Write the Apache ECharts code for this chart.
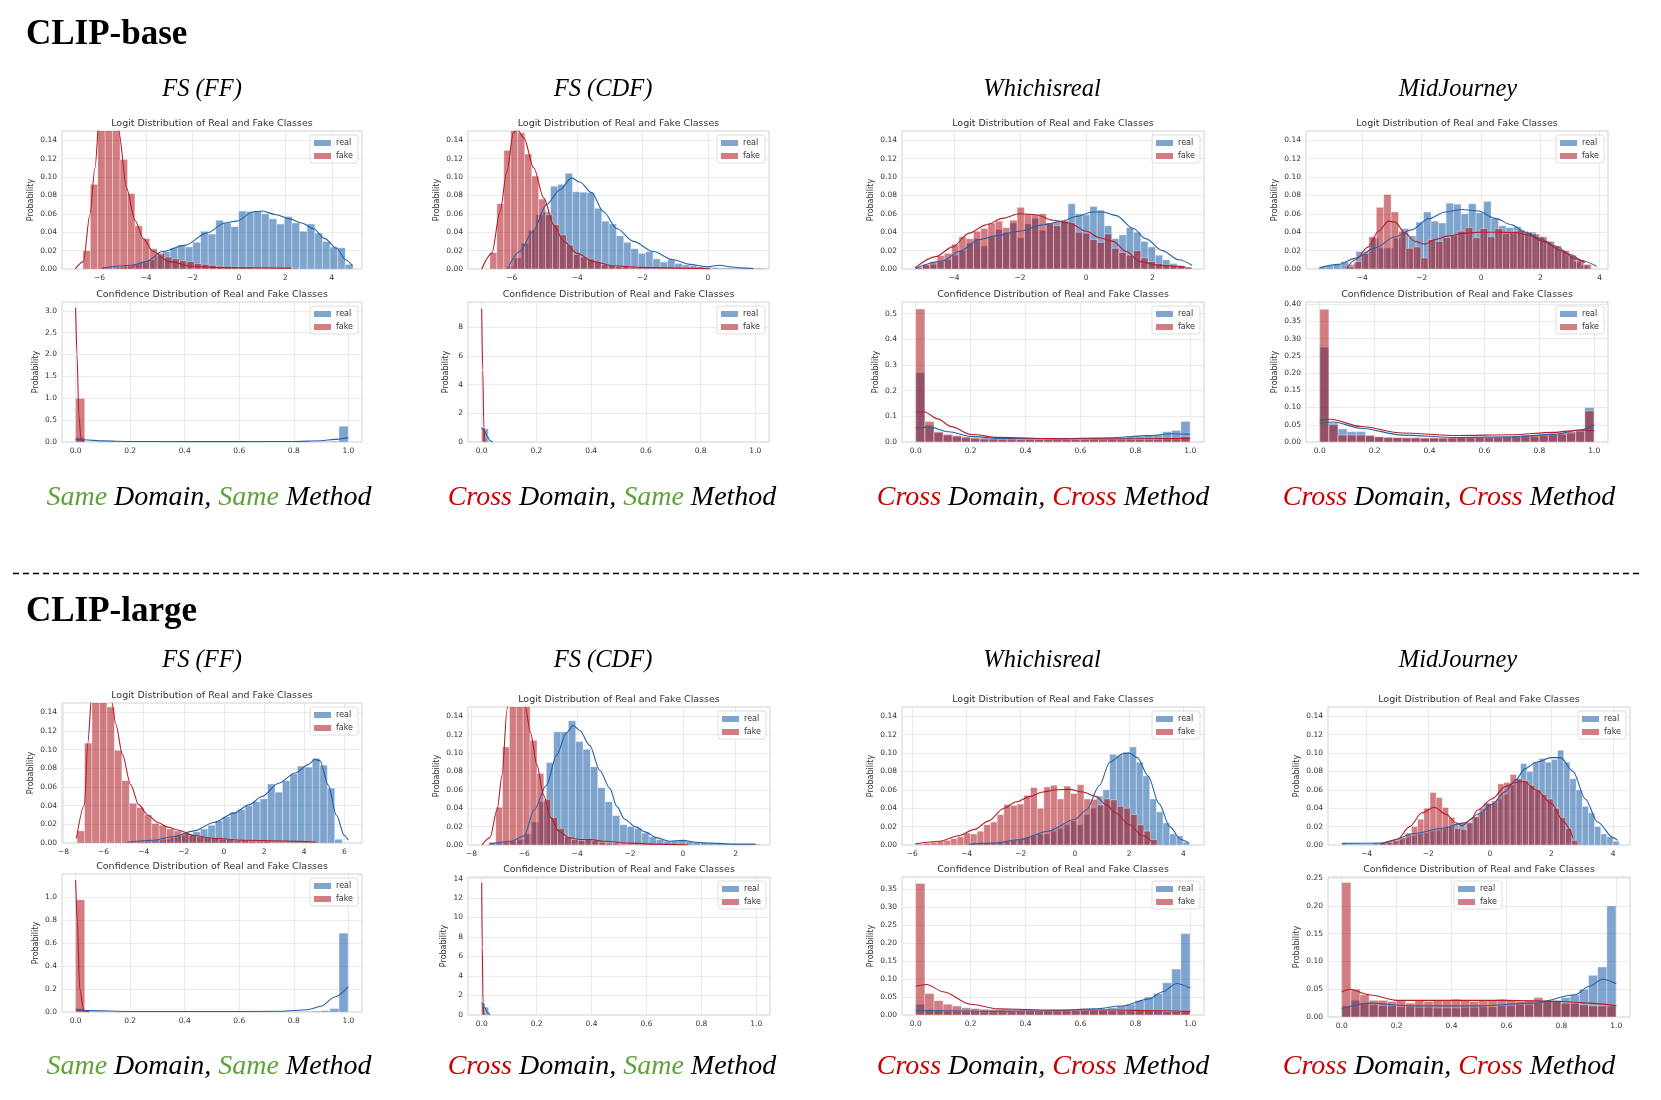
<!DOCTYPE html>
<html><head><meta charset="utf-8">
<script src="https://cdn.jsdelivr.net/npm/echarts@6.0.0/dist/echarts.min.js"></script>
<style>html,body{margin:0;padding:0;background:#fff}#c{width:1661px;height:1100px}</style>
</head><body><div id="c"></div>
<script>
// ---------- tick labels ----------
const xtB_FF = [-6,-4,-2,0,2,4];
const xtB_CDF = [-6,-4,-2,0];
const xtB_WIR = [-4,-2,0,2];
const xtB_MJ = [-4,-2,0,2,4];
const xtL_FF = [-8,-6,-4,-2,0,2,4,6];
const xtL_CDF = [-8,-6,-4,-2,0,2];
const xtL_WIR = [-6,-4,-2,0,2,4];
const xtL_MJ = [-4,-2,0,2,4];
const xtConf = [0,0.2,0.4,0.6,0.8,1.0];
const ytLogit = [0,0.02,0.04,0.06,0.08,0.10,0.12,0.14];
const ytB_FFc = [0,0.5,1,1.5,2,2.5,3];
const ytB_CDFc = [0,2,4,6,8];
const ytB_WIRc = [0,0.1,0.2,0.3,0.4,0.5];
const ytB_MJc = [0,0.05,0.10,0.15,0.20,0.25,0.30,0.35,0.40];
const ytL_FFc = [0,0.2,0.4,0.6,0.8,1.0];
const ytL_CDFc = [0,2,4,6,8,10,12,14];
const ytL_WIRc = [0,0.05,0.10,0.15,0.20,0.25,0.30,0.35];
const ytL_MJc = [0,0.05,0.10,0.15,0.20,0.25];

// ---------- CLIP-base : FS (FF) ----------
const bFFLogitRealBin = [-5.916, 0.328];
const bFFLogitRealH = [0.001,0.001,0.002,0.003,0.005,0.007,0.01,0.0145,0.019,0.023,0.026,0.024,0.029,0.041,0.038,0.053,0.05,0.046,0.063,0.0625,0.063,0.06,0.0545,0.049,0.057,0.05,0.041,0.049,0.039,0.03,0.024,0.023,0.005];
const bFFLogitFakeBin = [-6.72, 0.32];
const bFFLogitFakeH = [0.02,0.092,0.19,0.205,0.175,0.119,0.082,0.047,0.033,0.022,0.017,0.013,0.011,0.009,0.008,0.006,0.005,0.004,0.003,0.003,0.002,0.002,0.002,0.001,0.001,0.001,0.001,0.001,0.001];
const bFFLogitRealK = [[-5.9,0.001],[-4.6,0.004],[-4.0,0.008],[-3.3,0.019],[-2.3,0.026],[-1.4,0.039],[-0.6,0.05],[-0.1,0.052],[0.6,0.062],[1.0,0.063],[1.6,0.059],[2.2,0.0545],[2.7,0.05],[3.2,0.044],[3.7,0.033],[4.2,0.0225],[4.6,0.01],[4.9,0.003]];
const bFFLogitFakeK = [[-7.05,0.0],[-6.7,0.008],[-6.42,0.059],[-6.2,0.11],[-6.0,0.17],[-5.7,0.2],[-5.4,0.185],[-5.18,0.15],[-4.84,0.088],[-4.48,0.053],[-4.12,0.033],[-3.7,0.019],[-3.0,0.008],[-2.0,0.003],[-0.8,0.0015],[2.25,0.001]];
const bFFConfRealBin = [0, 0.0333];
const bFFConfRealH = [0.1,0.01,0.006,0.005,0.004,0.004,0.004,0.004,0.004,0.004,0.004,0.004,0.004,0.004,0.004,0.004,0.004,0.004,0.005,0.005,0.005,0.005,0.006,0.006,0.007,0.008,0.01,0.012,0.02,0.36];
const bFFConfFakeBin = [0, 0.0333];
const bFFConfFakeH = [0.995];
const bFFConfRealK = [[0,0.06],[0.03,0.05],[0.1,0.025],[0.2,0.012],[0.4,0.008],[0.6,0.008],[0.8,0.012],[0.9,0.03],[0.95,0.06],[1.0,0.1]];
const bFFConfFakeK = [[0,3.07],[0.005,2.0],[0.012,0.6],[0.02,0.05],[0.03,0]];

// ---------- CLIP-base : FS (CDF) ----------
const bCDFLogitRealBin = [-6.16, 0.224];
const bCDFLogitRealH = [0.003,0.012,0.028,0.042,0.059,0.062,0.09,0.092,0.104,0.084,0.0835,0.083,0.066,0.052,0.049,0.036,0.029,0.022,0.017,0.019,0.011,0.0075,0.01,0.006,0.0045,0.0036,0.0025,0.002,0.0015,0.001,0.0012,0.001,0.0008,0.0005,0.001,0.0005];
const bCDFLogitFakeBin = [-6.67, 0.213];
const bCDFLogitFakeH = [0.018,0.071,0.129,0.155,0.148,0.125,0.101,0.076,0.059,0.048,0.037,0.026,0.016,0.013,0.011,0.008,0.005,0.004,0.003,0.003,0.002,0.002,0.002,0.001,0.001,0.001,0.001,0.001,0.001,0.001,0.0005,0.0005];
const bCDFLogitRealK = [[-6.08,0.0036],[-5.76,0.019],[-5.35,0.041],[-4.94,0.07],[-4.53,0.086],[-4.17,0.099],[-3.92,0.0945],[-3.56,0.083],[-3.2,0.0625],[-2.79,0.044],[-2.28,0.03],[-1.67,0.019],[-1.06,0.01],[-0.55,0.005],[-0.04,0.0025],[0.37,0.004],[0.67,0.0025],[1.0,0.0012],[1.4,0.0005]];
const bCDFLogitFakeK = [[-6.92,0],[-6.61,0.017],[-6.36,0.0625],[-6.15,0.106],[-5.95,0.148],[-5.84,0.152],[-5.63,0.1425],[-5.33,0.11],[-5.02,0.077],[-4.72,0.048],[-4.41,0.03],[-4.0,0.017],[-3.49,0.008],[-2.88,0.0036],[-2.06,0.0018],[-0.22,0.0007],[0.08,0]];
const bCDFConfRealBin = [0.004, 0.02];
const bCDFConfRealH = [0.92, 0.06];
const bCDFConfFakeBin = [0, 0.012];
const bCDFConfFakeH = [0.99];
const bCDFConfRealK = [[0,1.0],[0.01,0.8],[0.02,0.4],[0.03,0.1],[0.04,0]];
const bCDFConfFakeK = [[0,9.3],[0.004,5],[0.008,1],[0.012,0]];

// ---------- CLIP-base : Whichisreal ----------
const bWIRLogitRealBin = [-5.17, 0.22];
const bWIRLogitRealH = [0.0015,0.004,0.005,0.008,0.01,0.015,0.02,0.028,0.033,0.025,0.035,0.043,0.04,0.05,0.034,0.049,0.055,0.042,0.05,0.051,0.052,0.071,0.06,0.059,0.068,0.064,0.047,0.033,0.037,0.045,0.04,0.03,0.024,0.015,0.01,0.006,0.004,0.002];
const bWIRLogitFakeBin = [-5.17, 0.22];
const bWIRLogitFakeH = [0.002,0.005,0.008,0.0145,0.017,0.027,0.035,0.033,0.041,0.044,0.05,0.052,0.045,0.053,0.067,0.06,0.059,0.06,0.05,0.047,0.052,0.05,0.04,0.039,0.032,0.029,0.038,0.0225,0.018,0.015,0.02,0.012,0.008,0.006,0.005,0.004,0.003,0.002];
const bWIRLogitRealK = [[-5.17,0.0007],[-4.35,0.0087],[-3.84,0.019],[-3.24,0.032],[-2.74,0.036],[-2.02,0.041],[-1.32,0.048],[-0.71,0.052],[-0.31,0.057],[0.2,0.062],[0.5,0.062],[0.91,0.058],[1.42,0.044],[1.8,0.033],[2.3,0.02],[2.8,0.01],[3.2,0.004]];
const bWIRLogitFakeK = [[-5.17,0.0015],[-4.55,0.0135],[-4.04,0.024],[-3.54,0.039],[-3.03,0.048],[-2.53,0.055],[-2.02,0.06],[-1.52,0.059],[-1.01,0.053],[-0.51,0.05],[0.0,0.041],[0.4,0.034],[0.81,0.03],[1.21,0.019],[1.62,0.008],[2.2,0.004],[3.0,0.002]];
const bWIRConfRealBin = [0, 0.0333];
const bWIRConfRealH = [0.27,0.065,0.035,0.025,0.02,0.015,0.012,0.01,0.01,0.009,0.009,0.008,0.009,0.01,0.009,0.01,0.01,0.011,0.012,0.013,0.012,0.014,0.016,0.02,0.022,0.025,0.028,0.04,0.045,0.08];
const bWIRConfFakeBin = [0, 0.0333];
const bWIRConfFakeH = [0.518,0.08,0.04,0.03,0.025,0.02,0.017,0.015,0.013,0.012,0.012,0.011,0.011,0.01,0.01,0.01,0.01,0.01,0.01,0.01,0.009,0.01,0.01,0.01,0.01,0.01,0.01,0.012,0.012,0.02];
const bWIRConfRealK = [[0,0.055],[0.05,0.058],[0.12,0.04],[0.2,0.022],[0.3,0.014],[0.5,0.012],[0.7,0.016],[0.85,0.025],[0.93,0.032],[1.0,0.03]];
const bWIRConfFakeK = [[0,0.115],[0.03,0.118],[0.08,0.09],[0.13,0.06],[0.2,0.03],[0.3,0.018],[0.5,0.013],[0.7,0.012],[0.9,0.013],[1.0,0.015]];

// ---------- CLIP-base : MidJourney ----------
const bMJLogitRealBin = [-5.48, 0.253];
const bMJLogitRealH = [0.0025,0.0036,0.005,0.008,0.005,0.019,0.019,0.0335,0.023,0.023,0.0335,0.044,0.036,0.051,0.062,0.052,0.05,0.0716,0.0705,0.06,0.071,0.061,0.0735,0.055,0.047,0.045,0.046,0.041,0.04,0.035,0.03,0.025,0.02,0.015,0.008,0.004];
const bMJLogitFakeBin = [-4.53, 0.25];
const bMJLogitFakeH = [0.0025,0.008,0.017,0.035,0.067,0.081,0.062,0.041,0.0225,0.024,0.012,0.032,0.03,0.034,0.037,0.041,0.045,0.034,0.044,0.035,0.044,0.039,0.041,0.0425,0.04,0.038,0.035,0.03,0.025,0.02,0.015,0.01,0.005];
const bMJLogitRealK = [[-5.42,0.0015],[-4.8,0.005],[-4.25,0.0116],[-3.57,0.023],[-2.9,0.035],[-2.34,0.0425],[-1.78,0.0545],[-1.21,0.062],[-0.65,0.0647],[-0.09,0.063],[0.48,0.055],[1.04,0.048],[1.49,0.04],[2.0,0.033],[2.5,0.025],[3.0,0.016],[3.4,0.009],[3.9,0.003]];
const bMJLogitFakeK = [[-4.53,0.0007],[-4.25,0.0098],[-3.8,0.024],[-3.46,0.041],[-3.12,0.052],[-2.9,0.051],[-2.56,0.039],[-2.23,0.03],[-1.89,0.027],[-1.55,0.032],[-1.1,0.036],[-0.54,0.039],[0.02,0.04],[0.58,0.04],[1.15,0.0396],[1.6,0.037],[2.1,0.03],[2.7,0.02],[3.2,0.011],[3.5,0.007]];
const bMJConfRealBin = [0, 0.0333];
const bMJConfRealH = [0.275,0.055,0.038,0.03,0.03,0.02,0.015,0.012,0.012,0.01,0.01,0.01,0.011,0.01,0.01,0.012,0.011,0.012,0.012,0.012,0.013,0.014,0.015,0.015,0.018,0.02,0.022,0.025,0.03,0.1];
const bMJConfFakeBin = [0, 0.0333];
const bMJConfFakeH = [0.385,0.05,0.02,0.02,0.02,0.018,0.015,0.014,0.013,0.013,0.013,0.012,0.012,0.012,0.013,0.013,0.013,0.014,0.014,0.015,0.016,0.018,0.02,0.02,0.022,0.025,0.028,0.03,0.035,0.09];
const bMJConfRealK = [[0,0.055],[0.05,0.058],[0.15,0.04],[0.3,0.02],[0.5,0.013],[0.7,0.015],[0.85,0.022],[0.95,0.035],[1.0,0.05]];
const bMJConfFakeK = [[0,0.063],[0.04,0.066],[0.15,0.045],[0.3,0.026],[0.5,0.019],[0.7,0.021],[0.85,0.028],[0.95,0.035],[1.0,0.033]];

// ---------- CLIP-large : FS (FF) ----------
const lFFLogitRealBin = [-4.894, 0.372];
const lFFLogitRealH = [0.001,0.001,0.002,0.002,0.003,0.004,0.006,0.008,0.01,0.012,0.015,0.019,0.024,0.028,0.033,0.036,0.04,0.0444,0.0473,0.0632,0.0545,0.0668,0.074,0.0824,0.0813,0.0907,0.0834,0.0588,0.004];
const lFFLogitFakeBin = [-7.32, 0.372];
const lFFLogitFakeH = [0.013,0.107,0.17,0.17,0.1456,0.0993,0.0668,0.0426,0.038,0.03,0.021,0.019,0.015,0.013,0.011,0.008,0.007,0.006,0.005,0.004,0.004,0.003,0.003,0.002,0.002,0.002,0.001,0.001,0.001,0.001,0.001,0.001];
const lFFLogitRealK = [[-4.8,0.001],[-3.5,0.003],[-2.5,0.007],[-1.5,0.013],[-0.5,0.022],[0.5,0.032],[1.24,0.0408],[1.9,0.0498],[2.72,0.064],[3.55,0.075],[4.21,0.084],[4.54,0.0896],[4.79,0.088],[5.2,0.062],[5.6,0.03],[6.0,0.008],[6.2,0.003]];
const lFFLogitFakeK = [[-7.35,0.005],[-6.95,0.041],[-6.79,0.106],[-6.58,0.16],[-6.2,0.2],[-5.85,0.175],[-5.59,0.151],[-5.39,0.1275],[-5.06,0.095],[-4.65,0.0625],[-4.24,0.0408],[-3.8,0.03],[-3.3,0.022],[-2.8,0.017],[-2.3,0.014],[-1.5,0.008],[-0.5,0.005],[1,0.003],[3,0.002],[4.6,0.001]];
const lFFConfRealBin = [0, 0.0333];
const lFFConfRealH = [0.03,0.005,0.003,0.002,0.002,0.002,0.002,0.002,0.002,0.002,0.002,0.002,0.002,0.002,0.002,0.002,0.002,0.002,0.002,0.002,0.003,0.003,0.003,0.004,0.005,0.006,0.008,0.012,0.03,0.686];
const lFFConfFakeBin = [0, 0.0333];
const lFFConfFakeH = [0.976];
const lFFConfRealK = [[0,0.02],[0.05,0.012],[0.2,0.005],[0.5,0.004],[0.75,0.006],[0.85,0.02],[0.9,0.05],[0.95,0.13],[1.0,0.22]];
const lFFConfFakeK = [[0,1.145],[0.006,0.8],[0.015,0.2],[0.03,0.01],[0.05,0]];

// ---------- CLIP-large : FS (CDF) ----------
const lCDFLogitRealBin = [-7.39, 0.278];
const lCDFLogitRealH = [0.001,0.002,0.003,0.004,0.006,0.012,0.025,0.047,0.0896,0.123,0.123,0.135,0.1126,0.104,0.085,0.0623,0.047,0.032,0.022,0.02,0.018,0.013,0.009,0.006,0.004,0.004,0.005,0.004,0.003,0.003,0.002,0.002,0.001,0.001,0.001,0.001,0.001];
const lCDFLogitFakeBin = [-7.34, 0.26];
const lCDFLogitFakeH = [0.003,0.041,0.1065,0.17,0.19,0.165,0.1137,0.0778,0.0497,0.03,0.018,0.009,0.006,0.005,0.006,0.005,0.003,0.002,0.002,0.001,0.001,0.001,0.001,0.001,0.0005,0.0005,0.0005,0.0005];
const lCDFLogitRealK = [[-7.3,0.001],[-6.5,0.004],[-6.0,0.01],[-5.63,0.038],[-5.16,0.065],[-4.78,0.0975],[-4.4,0.122],[-4.15,0.13],[-3.9,0.1245],[-3.52,0.108],[-3.14,0.081],[-2.76,0.0616],[-2.5,0.042],[-2.2,0.028],[-1.8,0.02],[-1.4,0.014],[-1.0,0.008],[-0.5,0.004],[0.0,0.005],[0.5,0.003],[1.0,0.002],[2.0,0.001],[2.75,0.001]];
const lCDFLogitFakeK = [[-7.6,0],[-7.3,0.008],[-7.03,0.038],[-6.84,0.076],[-6.65,0.148],[-6.45,0.175],[-6.25,0.185],[-6.1,0.175],[-5.96,0.15],[-5.77,0.1227],[-5.52,0.0868],[-5.27,0.0544],[-5.0,0.03],[-4.7,0.015],[-4.3,0.008],[-3.9,0.006],[-3.5,0.006],[-3.0,0.004],[-2,0.002],[-1,0.001],[0.2,0]];
const lCDFConfRealBin = [0, 0.0125];
const lCDFConfRealH = [1.2, 0.8];
const lCDFConfFakeBin = [0, 0.006];
const lCDFConfFakeH = [1.0];
const lCDFConfRealK = [[0,1.3],[0.01,0.8],[0.02,0.3],[0.03,0]];
const lCDFConfFakeK = [[0,13.55],[0.002,7],[0.005,1],[0.008,0]];

// ---------- CLIP-large : Whichisreal ----------
const lWIRLogitRealBin = [-3.886, 0.246];
const lWIRLogitRealH = [0.001,0.001,0.002,0.002,0.003,0.004,0.005,0.006,0.008,0.01,0.012,0.012,0.015,0.018,0.022,0.026,0.022,0.033,0.04,0.053,0.06,0.0986,0.0975,0.101,0.1066,0.09,0.075,0.05,0.036,0.024,0.012,0.01,0.003];
const lWIRLogitFakeBin = [-5.82, 0.246];
const lWIRLogitFakeH = [0.001,0.002,0.003,0.004,0.005,0.007,0.009,0.013,0.012,0.015,0.022,0.025,0.033,0.044,0.043,0.0445,0.054,0.0625,0.04,0.063,0.065,0.05,0.064,0.056,0.0655,0.05,0.0495,0.0435,0.05,0.049,0.042,0.04,0.033,0.022,0.015,0.006];
const lWIRLogitRealK = [[-3.9,0.001],[-3,0.002],[-2,0.006],[-1,0.015],[0,0.028],[0.42,0.038],[0.91,0.065],[1.28,0.09],[1.77,0.099],[1.99,0.1],[2.3,0.095],[2.7,0.075],[3.1,0.045],[3.5,0.02],[3.9,0.006],[4.2,0.002]];
const lWIRLogitFakeK = [[-5.9,0.001],[-5.0,0.004],[-4.3,0.01],[-3.7,0.017],[-3.2,0.026],[-2.62,0.04],[-2.16,0.047],[-1.67,0.0526],[-1.18,0.0576],[-0.69,0.06],[-0.2,0.0605],[0.29,0.0576],[0.78,0.0526],[1.16,0.0436],[1.5,0.035],[2.0,0.022],[2.5,0.01],[2.82,0.004]];
const lWIRConfRealBin = [0, 0.0333];
const lWIRConfRealH = [0.03,0.015,0.012,0.01,0.01,0.009,0.009,0.008,0.008,0.008,0.008,0.009,0.009,0.009,0.01,0.01,0.011,0.012,0.013,0.015,0.017,0.02,0.025,0.03,0.04,0.05,0.06,0.09,0.128,0.227];
const lWIRConfFakeBin = [0, 0.0333];
const lWIRConfFakeH = [0.367,0.06,0.04,0.03,0.025,0.02,0.018,0.016,0.015,0.015,0.014,0.014,0.014,0.013,0.014,0.014,0.014,0.013,0.013,0.013,0.013,0.012,0.012,0.012,0.012,0.012,0.012,0.01,0.01,0.012];
const lWIRConfRealK = [[0,0.012],[0.1,0.012],[0.3,0.01],[0.5,0.012],[0.65,0.017],[0.75,0.025],[0.85,0.045],[0.9,0.065],[0.95,0.088],[1.0,0.075]];
const lWIRConfFakeK = [[0,0.08],[0.04,0.085],[0.1,0.065],[0.2,0.03],[0.3,0.017],[0.5,0.014],[0.7,0.014],[0.9,0.012],[1.0,0.01]];

// ---------- CLIP-large : MidJourney ----------
const lMJLogitRealBin = [-4.8, 0.2];
const lMJLogitRealH = [0.002,0.001,0.001,0.001,0.001,0.002,0.002,0.003,0.004,0.006,0.008,0.01,0.012,0.013,0.015,0.016,0.018,0.02,0.022,0.024,0.025,0.03,0.035,0.046,0.045,0.05,0.055,0.065,0.072,0.0885,0.08,0.09,0.094,0.09,0.093,0.103,0.09,0.072,0.06,0.042,0.035,0.02,0.012,0.009,0.004];
const lMJLogitFakeBin = [-3.54, 0.2];
const lMJLogitFakeH = [0.002,0.003,0.005,0.008,0.013,0.02,0.028,0.04,0.057,0.0515,0.0407,0.03,0.018,0.017,0.024,0.031,0.04,0.045,0.048,0.0665,0.068,0.0767,0.072,0.07,0.065,0.06,0.055,0.05,0.04,0.03,0.018,0.005];
const lMJLogitRealK = [[-4.8,0.0018],[-3.5,0.002],[-2.36,0.0128],[-1.6,0.018],[-0.83,0.024],[-0.35,0.034],[0.07,0.044],[0.5,0.058],[0.82,0.07],[1.15,0.083],[1.5,0.09],[2.0,0.095],[2.3,0.095],[2.7,0.08],[3.1,0.05],[3.5,0.025],[4.0,0.008],[4.15,0.005]];
const lMJLogitFakeK = [[-3.55,0.001],[-3.0,0.006],[-2.6,0.02],[-2.2,0.035],[-1.8,0.041],[-1.4,0.033],[-1.1,0.024],[-0.9,0.021],[-0.6,0.028],[-0.4,0.038],[0.07,0.05],[0.5,0.0634],[0.83,0.068],[1.1,0.069],[1.5,0.06],[2.0,0.045],[2.4,0.025],[2.7,0.008]];
const lMJConfRealBin = [0, 0.0333];
const lMJConfRealH = [0.02,0.03,0.025,0.022,0.02,0.02,0.018,0.018,0.017,0.017,0.016,0.016,0.016,0.017,0.017,0.018,0.018,0.02,0.02,0.022,0.022,0.025,0.028,0.03,0.035,0.04,0.05,0.075,0.09,0.2];
const lMJConfFakeBin = [0, 0.0333];
const lMJConfFakeH = [0.242,0.05,0.04,0.03,0.03,0.028,0.03,0.025,0.03,0.028,0.03,0.03,0.032,0.03,0.028,0.03,0.03,0.032,0.03,0.028,0.03,0.035,0.03,0.028,0.025,0.025,0.022,0.02,0.02,0.02];
const lMJConfRealK = [[0,0.015],[0.1,0.025],[0.25,0.02],[0.5,0.02],[0.7,0.025],[0.85,0.04],[0.9,0.055],[0.95,0.068],[1.0,0.06]];
const lMJConfFakeK = [[0,0.045],[0.03,0.05],[0.1,0.04],[0.2,0.03],[0.4,0.03],[0.6,0.03],[0.8,0.028],[0.9,0.025],[1.0,0.02]];

// ---------- texts ----------
const groupTitles = ['CLIP-base', 'CLIP-large'];
const columnTitles = ['FS (FF)', 'FS (CDF)', 'Whichisreal', 'MidJourney'];
const captionDomain = ['Same', 'Cross', 'Cross', 'Cross'];
const captionMethod = ['Same', 'Same', 'Cross', 'Cross'];
const LOGIT_TITLE = 'Logit Distribution of Real and Fake Classes';
const CONF_TITLE = 'Confidence Distribution of Real and Fake Classes';

// ---------- styling ----------
const REAL_FILL = 'rgba(22,91,166,0.55)';
const FAKE_FILL = 'rgba(166,5,15,0.52)';
const REAL_LINE = '#2461aa';
const FAKE_LINE = '#b41f2a';
const TXT = '#333';
const SANS = 'DejaVu Sans';
const SERIF_IT_TITLE = 'italic 24.5px "Liberation Serif", serif';
const SERIF_IT_CAP = 'italic 28px "Liberation Serif", serif';
const SERIF_BOLD = 'bold 35px "Liberation Serif", serif';
const CHART_W = 1661;

const fmtInt = v => (v < 0 ? '\u2212' + Math.abs(v) : String(v));
const fmt0 = v => String(Math.round(v));
const fmt1 = v => v.toFixed(1);
const fmt2 = v => v.toFixed(2);

const option = {
  animation: false, backgroundColor: '#fff',
  grid: [], xAxis: [], yAxis: [], series: [], legend: [], graphic: []
};

function histData(bin, h) {
  return h.map((v, i) => [bin[0] + i * bin[1], bin[0] + (i + 1) * bin[1], v]);
}
function barRenderer(fill) {
  return function (params, api) {
    const a = api.coord([api.value(0), 0]);
    const b = api.coord([api.value(1), api.value(2)]);
    return { type: 'rect',
      shape: { x: a[0], y: b[1], width: b[0] - a[0], height: a[1] - b[1] },
      style: { fill: fill, stroke: 'rgba(255,255,255,0.6)', lineWidth: 0.6 } };
  };
}

function addPlot(p) {
  const gi = option.grid.length;
  option.grid.push({ left: p.L, top: p.T, width: p.W, height: p.H, show: true,
    borderColor: '#d2d2d2', borderWidth: 1, backgroundColor: 'transparent' });
  option.xAxis.push({ type: 'value', gridIndex: gi, min: p.xMin, max: p.xMax,
    axisLine: { show: false },
    axisTick: { show: false, customValues: p.xt },
    axisLabel: { customValues: p.xt, formatter: p.xf, fontSize: 7.5, color: TXT, fontFamily: SANS, margin: 5 },
    splitLine: { show: true, lineStyle: { color: '#e4e4e4', width: 0.8 } } });
  option.yAxis.push({ type: 'value', gridIndex: gi, min: 0, max: p.yMax,
    name: 'Probability', nameLocation: 'middle', nameGap: p.ng || 27,
    nameTextStyle: { fontSize: 8, color: TXT, fontFamily: SANS },
    axisLine: { show: false },
    axisTick: { show: false, customValues: p.yt },
    axisLabel: { customValues: p.yt, formatter: p.yf, fontSize: 7.5, color: TXT, fontFamily: SANS, margin: 5 },
    splitLine: { show: true, lineStyle: { color: '#e4e4e4', width: 0.8 } } });
  option.series.push({ type: 'custom', name: 'real', xAxisIndex: gi, yAxisIndex: gi, clip: true,
    renderItem: barRenderer(REAL_FILL), itemStyle: { color: REAL_FILL },
    encode: { x: [0, 1], y: 2 }, data: histData(p.rb, p.rh), z: 2 });
  option.series.push({ type: 'custom', name: 'fake', xAxisIndex: gi, yAxisIndex: gi, clip: true,
    renderItem: barRenderer(FAKE_FILL), itemStyle: { color: FAKE_FILL },
    encode: { x: [0, 1], y: 2 }, data: histData(p.fb, p.fh), z: 3 });
  option.series.push({ type: 'line', name: 'real kde', xAxisIndex: gi, yAxisIndex: gi,
    data: p.rk, smooth: 0.3, smoothMonotone: 'x', symbol: 'none', clip: true,
    lineStyle: { color: REAL_LINE, width: 1.1 }, z: 4, silent: true });
  option.series.push({ type: 'line', name: 'fake kde', xAxisIndex: gi, yAxisIndex: gi,
    data: p.fk, smooth: 0.3, smoothMonotone: 'x', symbol: 'none', clip: true,
    lineStyle: { color: FAKE_LINE, width: 1.1 }, z: 4, silent: true });
  const lg = { data: ['real', 'fake'], orient: 'vertical', icon: 'rect',
    itemWidth: 17, itemHeight: 6, itemGap: 5, padding: [4, 5, 3, 4],
    textStyle: { fontSize: 8, color: TXT, fontFamily: SANS },
    borderColor: '#d6d6d6', borderWidth: 0.8, borderRadius: 2.5,
    backgroundColor: 'rgba(255,255,255,0.8)', selectedMode: false, top: p.T + 4 };
  if (p.legendLeft) lg.left = p.legendLeft; else lg.right = CHART_W - (p.L + p.W) + 4;
  option.legend.push(lg);
  option.graphic.push({ type: 'text', x: p.L + p.W / 2, y: p.T - 7,
    style: { text: p.title, fontSize: 9.5, fontFamily: SANS, fill: TXT,
      textAlign: 'center', textVerticalAlign: 'middle' } });
}

// columns / rows geometry
const colL = [62, 468, 902, 1306];
const colW = [300, 301, 302, 302];
const colLb = [62, 468, 902, 1328];
const colWb = [300, 302, 302, 302];

// ---- top row (CLIP-base)
addPlot({ L: colL[0], T: 131, W: colW[0], H: 138, xMin: -7.62, xMax: 5.3, xt: xtB_FF, xf: fmtInt, yMax: 0.15, yt: ytLogit, yf: fmt2, title: LOGIT_TITLE,
  rb: bFFLogitRealBin, rh: bFFLogitRealH, fb: bFFLogitFakeBin, fh: bFFLogitFakeH, rk: bFFLogitRealK, fk: bFFLogitFakeK });
addPlot({ L: colL[0], T: 302, W: colW[0], H: 140, xMin: -0.05, xMax: 1.05, xt: xtConf, xf: fmt1, yMax: 3.2, yt: ytB_FFc, yf: fmt1, title: CONF_TITLE, ng: 22,
  rb: bFFConfRealBin, rh: bFFConfRealH, fb: bFFConfFakeBin, fh: bFFConfFakeH, rk: bFFConfRealK, fk: bFFConfFakeK });
addPlot({ L: colL[1], T: 131, W: colW[1], H: 138, xMin: -7.34, xMax: 1.87, xt: xtB_CDF, xf: fmtInt, yMax: 0.15, yt: ytLogit, yf: fmt2, title: LOGIT_TITLE,
  rb: bCDFLogitRealBin, rh: bCDFLogitRealH, fb: bCDFLogitFakeBin, fh: bCDFLogitFakeH, rk: bCDFLogitRealK, fk: bCDFLogitFakeK });
addPlot({ L: colL[1], T: 302, W: colW[1], H: 140, xMin: -0.05, xMax: 1.05, xt: xtConf, xf: fmt1, yMax: 9.77, yt: ytB_CDFc, yf: fmt0, title: CONF_TITLE, ng: 18,
  rb: bCDFConfRealBin, rh: bCDFConfRealH, fb: bCDFConfFakeBin, fh: bCDFConfFakeH, rk: bCDFConfRealK, fk: bCDFConfFakeK });
addPlot({ L: colL[2], T: 131, W: colW[2], H: 138, xMin: -5.57, xMax: 3.56, xt: xtB_WIR, xf: fmtInt, yMax: 0.15, yt: ytLogit, yf: fmt2, title: LOGIT_TITLE,
  rb: bWIRLogitRealBin, rh: bWIRLogitRealH, fb: bWIRLogitFakeBin, fh: bWIRLogitFakeH, rk: bWIRLogitRealK, fk: bWIRLogitFakeK });
addPlot({ L: colL[2], T: 302, W: colW[2], H: 140, xMin: -0.05, xMax: 1.05, xt: xtConf, xf: fmt1, yMax: 0.545, yt: ytB_WIRc, yf: fmt1, title: CONF_TITLE, ng: 22,
  rb: bWIRConfRealBin, rh: bWIRConfRealH, fb: bWIRConfFakeBin, fh: bWIRConfFakeH, rk: bWIRConfRealK, fk: bWIRConfFakeK });
addPlot({ L: colL[3], T: 131, W: colW[3], H: 138, xMin: -5.9, xMax: 4.28, xt: xtB_MJ, xf: fmtInt, yMax: 0.15, yt: ytLogit, yf: fmt2, title: LOGIT_TITLE,
  rb: bMJLogitRealBin, rh: bMJLogitRealH, fb: bMJLogitFakeBin, fh: bMJLogitFakeH, rk: bMJLogitRealK, fk: bMJLogitFakeK });
addPlot({ L: colL[3], T: 302, W: colW[3], H: 140, xMin: -0.05, xMax: 1.05, xt: xtConf, xf: fmt1, yMax: 0.406, yt: ytB_MJc, yf: fmt2, title: CONF_TITLE,
  rb: bMJConfRealBin, rh: bMJConfRealH, fb: bMJConfFakeBin, fh: bMJConfFakeH, rk: bMJConfRealK, fk: bMJConfFakeK });

// ---- bottom row (CLIP-large)
addPlot({ L: colLb[0], T: 703, W: colWb[0], H: 140, xMin: -8.07, xMax: 6.88, xt: xtL_FF, xf: fmtInt, yMax: 0.15, yt: ytLogit, yf: fmt2, title: LOGIT_TITLE,
  rb: lFFLogitRealBin, rh: lFFLogitRealH, fb: lFFLogitFakeBin, fh: lFFLogitFakeH, rk: lFFLogitRealK, fk: lFFLogitFakeK });
addPlot({ L: colLb[0], T: 874, W: colWb[0], H: 138, xMin: -0.05, xMax: 1.05, xt: xtConf, xf: fmt1, yMax: 1.2, yt: ytL_FFc, yf: fmt1, title: CONF_TITLE, ng: 22,
  rb: lFFConfRealBin, rh: lFFConfRealH, fb: lFFConfFakeBin, fh: lFFConfFakeH, rk: lFFConfRealK, fk: lFFConfFakeK });
addPlot({ L: colLb[1], T: 707, W: colWb[1], H: 138, xMin: -8.13, xMax: 3.3, xt: xtL_CDF, xf: fmtInt, yMax: 0.15, yt: ytLogit, yf: fmt2, title: LOGIT_TITLE,
  rb: lCDFLogitRealBin, rh: lCDFLogitRealH, fb: lCDFLogitFakeBin, fh: lCDFLogitFakeH, rk: lCDFLogitRealK, fk: lCDFLogitFakeK });
addPlot({ L: colLb[1], T: 877, W: colWb[1], H: 138, xMin: -0.05, xMax: 1.05, xt: xtConf, xf: fmt1, yMax: 14.16, yt: ytL_CDFc, yf: fmt0, title: CONF_TITLE, ng: 20,
  rb: lCDFConfRealBin, rh: lCDFConfRealH, fb: lCDFConfFakeBin, fh: lCDFConfFakeH, rk: lCDFConfRealK, fk: lCDFConfFakeK });
addPlot({ L: colLb[2], T: 707, W: colWb[2], H: 138, xMin: -6.38, xMax: 4.76, xt: xtL_WIR, xf: fmtInt, yMax: 0.15, yt: ytLogit, yf: fmt2, title: LOGIT_TITLE,
  rb: lWIRLogitRealBin, rh: lWIRLogitRealH, fb: lWIRLogitFakeBin, fh: lWIRLogitFakeH, rk: lWIRLogitRealK, fk: lWIRLogitFakeK });
addPlot({ L: colLb[2], T: 877, W: colWb[2], H: 138, xMin: -0.05, xMax: 1.05, xt: xtConf, xf: fmt1, yMax: 0.385, yt: ytL_WIRc, yf: fmt2, title: CONF_TITLE,
  rb: lWIRConfRealBin, rh: lWIRConfRealH, fb: lWIRConfFakeBin, fh: lWIRConfFakeH, rk: lWIRConfRealK, fk: lWIRConfFakeK });
addPlot({ L: colLb[3], T: 707, W: colWb[3], H: 138, xMin: -5.25, xMax: 4.55, xt: xtL_MJ, xf: fmtInt, yMax: 0.15, yt: ytLogit, yf: fmt2, title: LOGIT_TITLE,
  rb: lMJLogitRealBin, rh: lMJLogitRealH, fb: lMJLogitFakeBin, fh: lMJLogitFakeH, rk: lMJLogitRealK, fk: lMJLogitFakeK });
addPlot({ L: colLb[3], T: 877, W: colWb[3], H: 140, xMin: -0.05, xMax: 1.05, xt: xtConf, xf: fmt1, yMax: 0.252, yt: ytL_MJc, yf: fmt2, title: CONF_TITLE, legendLeft: 1454,
  rb: lMJConfRealBin, rh: lMJConfRealH, fb: lMJConfFakeBin, fh: lMJConfFakeH, rk: lMJConfRealK, fk: lMJConfFakeK });

// ---- headings, column titles, captions, separator
const groupY = [35, 612];
groupTitles.forEach((t, i) => option.graphic.push({ type: 'text', x: 26, y: groupY[i],
  style: { text: t, font: SERIF_BOLD, fill: '#000', textAlign: 'left', textVerticalAlign: 'middle' } }));
const colTitleX = [202, 603, 1042, 1458];
const colTitleY = [90, 661];
colTitleY.forEach(y => columnTitles.forEach((t, i) => option.graphic.push({ type: 'text', x: colTitleX[i], y: y,
  style: { text: t, font: SERIF_IT_TITLE, fill: '#000', textAlign: 'center', textVerticalAlign: 'middle' } })));
const capX = [209, 612, 1043, 1449];
const capY = [498, 1067];
const capRich = {
  g: { fill: '#5fa23a', font: SERIF_IT_CAP },
  r: { fill: '#cc0000', font: SERIF_IT_CAP },
  k: { fill: '#000', font: SERIF_IT_CAP }
};
const tag = w => (w === 'Same' ? 'g' : 'r');
capY.forEach(y => captionDomain.forEach((d, i) => {
  const m = captionMethod[i];
  option.graphic.push({ type: 'text', x: capX[i], y: y,
    style: { text: '{' + tag(d) + '|' + d + '}{k| Domain, }{' + tag(m) + '|' + m + '}{k| Method}',
      rich: capRich, font: SERIF_IT_CAP, fill: '#000',
      textAlign: 'center', textVerticalAlign: 'middle' } });
}));
option.graphic.push({ type: 'line', shape: { x1: 13, y1: 573.5, x2: 1640, y2: 573.5 },
  style: { stroke: '#000', lineWidth: 1.4, lineDash: [6, 4] } });

const chart = echarts.init(document.getElementById('c'), null, { renderer: 'canvas' });
chart.setOption(option);
</script></body></html>
